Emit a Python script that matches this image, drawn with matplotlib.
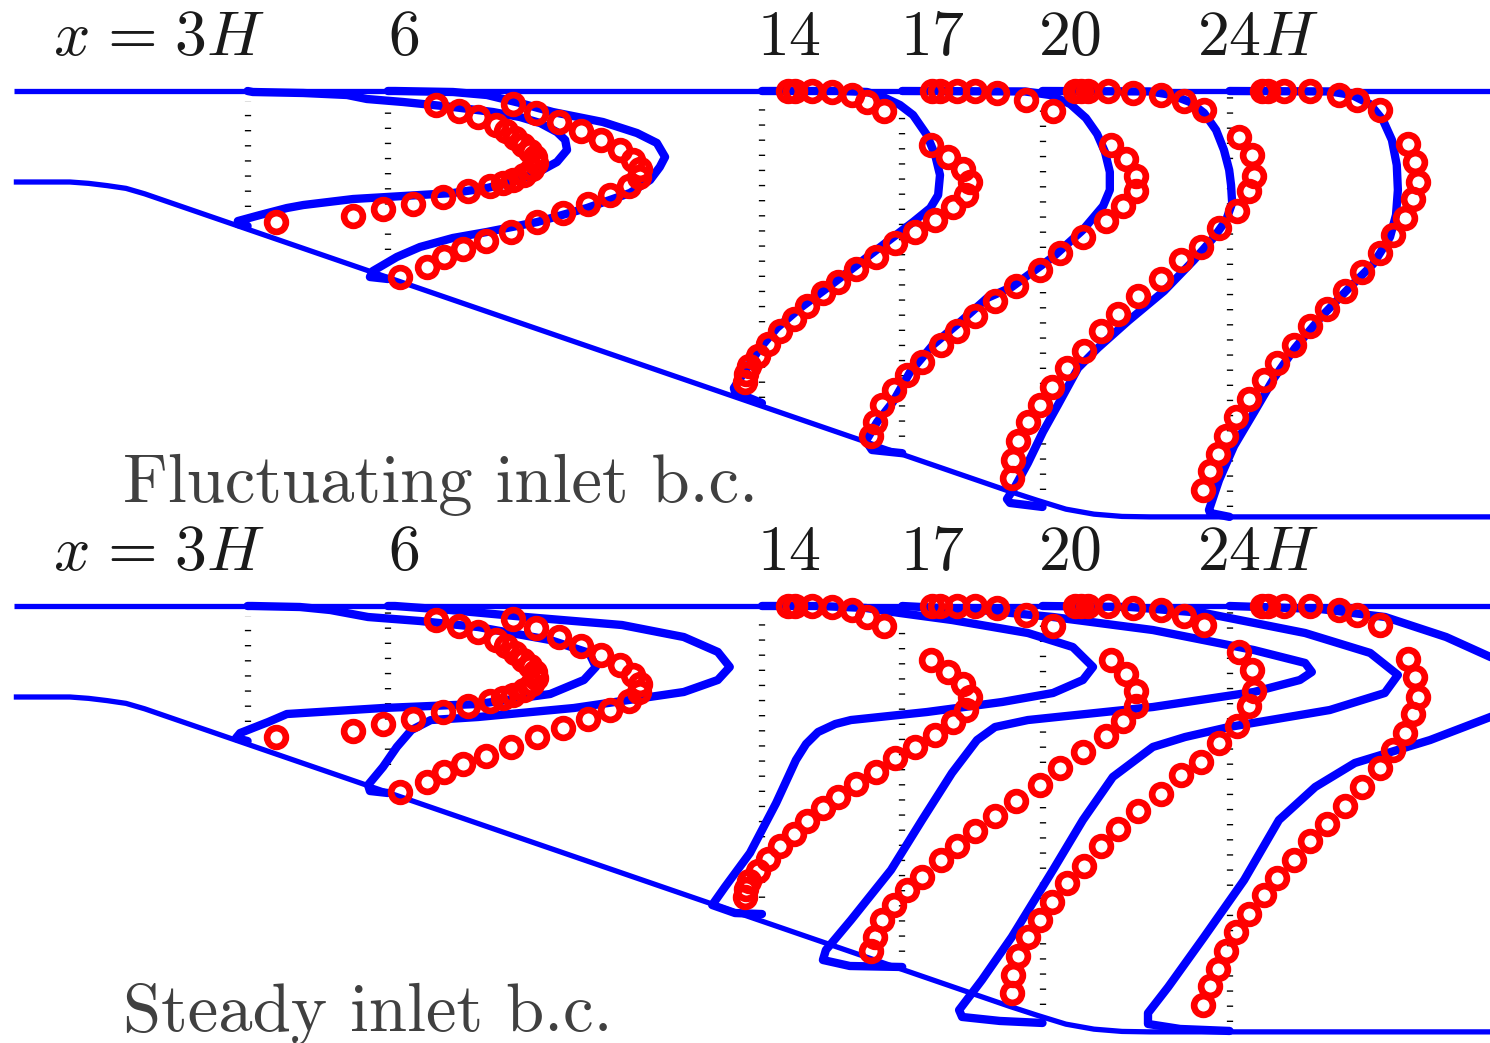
import matplotlib.pyplot as plt

plt.rcParams['mathtext.fontset'] = 'cm'

# stations along the diffuser (in H) and their labels
STATIONS = [3, 6, 14, 17, 20, 24]
STATION_LABELS = [r'$x\hspace{0.12}=\hspace{0.12}3H$', r'$6$', r'$14$', r'$17$', r'$20$', r'$24H$']
U_SCALE = 8.0  # x-offset (in H) per unit of U/Ub

# channel walls (x/H, y/H)
TOP_WALL_X = [-2.0, 29.7]
TOP_WALL_Y = [1.0, 1.0]
BOT_WALL_X = [-2.0, -0.8, -0.4, 0.0, 0.4, 0.8, 19.3, 19.9, 20.5, 21.1, 21.7, 22.3, 29.7]
BOT_WALL_Y = [0.0, 0.0, -0.015, -0.04, -0.07, -0.13, -3.40, -3.50, -3.595, -3.65, -3.675, -3.68, -3.68]

# extent of the dotted zero lines at each station
DOT_TOP = [0.89, 0.956, 0.945, 0.846, 0.923, 0.956]
DOT_BOT = [-0.275, -0.75, -2.374, -2.967, -3.385, -3.571]

# experiment (circles) - same data in both panels
EXP3_U = [0.504, 0.565, 0.616, 0.664, 0.691, 0.715, 0.736, 0.755, 0.768, 0.771, 0.760,
          0.739, 0.709, 0.683, 0.648, 0.589, 0.522, 0.442, 0.362, 0.282, 0.076]
EXP3_Y = [0.846, 0.780, 0.714, 0.626, 0.560, 0.484, 0.407, 0.341, 0.275, 0.209, 0.143,
          0.077, 0.022, -0.011, -0.044, -0.099, -0.165, -0.242, -0.297, -0.374, -0.440]
EXP6_U = [0.334, 0.396, 0.457, 0.516, 0.570, 0.620, 0.655, 0.674, 0.671, 0.644, 0.594,
          0.535, 0.468, 0.399, 0.329, 0.262, 0.201, 0.150, 0.105, 0.032]
EXP6_Y = [0.857, 0.758, 0.659, 0.560, 0.462, 0.352, 0.242, 0.143, 0.055, -0.044, -0.143,
          -0.242, -0.341, -0.440, -0.549, -0.648, -0.736, -0.824, -0.934, -1.044]
EXP14_U = [0.070, 0.088, 0.134, 0.187, 0.241, 0.281, 0.326, 0.452, 0.497, 0.538, 0.556,
           0.546, 0.511, 0.463, 0.409, 0.356, 0.305, 0.252, 0.203, 0.163, 0.121, 0.086,
           0.048, 0.016, -0.010, -0.034, -0.043, -0.045]
EXP14_Y = [1.005, 1.005, 1.000, 0.989, 0.956, 0.879, 0.780, 0.407, 0.275, 0.143, 0.000,
           -0.143, -0.275, -0.418, -0.549, -0.670, -0.824, -0.956, -1.099, -1.220, -1.363,
           -1.505, -1.637, -1.780, -1.912, -2.022, -2.110, -2.198]
EXP17_U = [0.080, 0.101, 0.146, 0.195, 0.253, 0.331, 0.403, 0.558, 0.598, 0.625, 0.625,
           0.590, 0.545, 0.483, 0.422, 0.368, 0.304, 0.248, 0.195, 0.146, 0.104, 0.053,
           0.013, -0.022, -0.054, -0.073, -0.083]
EXP17_Y = [1.005, 1.005, 1.005, 1.000, 0.978, 0.901, 0.780, 0.407, 0.253, 0.066, -0.099,
           -0.264, -0.429, -0.604, -0.780, -0.967, -1.143, -1.308, -1.473, -1.637, -1.791,
           -1.978, -2.121, -2.286, -2.451, -2.637, -2.791]
EXP20_U = [0.087, 0.103, 0.122, 0.175, 0.242, 0.317, 0.378, 0.432, 0.525, 0.560, 0.565,
           0.552, 0.520, 0.472, 0.424, 0.370, 0.317, 0.255, 0.202, 0.156, 0.111, 0.065,
           0.025, -0.007, -0.039, -0.065, -0.079, -0.082]
EXP20_Y = [1.005, 1.005, 1.005, 1.000, 0.978, 0.956, 0.890, 0.791, 0.495, 0.297, 0.066,
           -0.099, -0.319, -0.505, -0.714, -0.857, -1.066, -1.253, -1.451, -1.637, -1.857,
           -2.044, -2.253, -2.451, -2.637, -2.846, -3.055, -3.253]
EXP24_U = [0.087, 0.103, 0.146, 0.215, 0.293, 0.341, 0.402, 0.477, 0.496, 0.504, 0.490,
           0.469, 0.437, 0.402, 0.354, 0.309, 0.261, 0.215, 0.172, 0.127, 0.092, 0.052,
           0.017, -0.009, -0.031, -0.052, -0.071]
EXP24_Y = [1.005, 1.005, 1.000, 1.000, 0.956, 0.901, 0.791, 0.418, 0.220, 0.000, -0.187,
           -0.396, -0.582, -0.780, -0.989, -1.198, -1.396, -1.582, -1.791, -1.989, -2.176,
           -2.385, -2.582, -2.791, -2.989, -3.176, -3.385]

# simulation, fluctuating inlet b.c. (top panel)
FL3_U = [0.0, -0.026, -0.026, 0.033, 0.105, 0.149, 0.282, 0.416, 0.549, 0.640, 0.709, 0.773,
         0.827, 0.854, 0.849, 0.827, 0.782, 0.728, 0.656, 0.549, 0.416, 0.319, 0.266, 0.149,
         0.014, 0.0]
FL3_Y = [-0.484, -0.462, -0.429, -0.363, -0.286, -0.253, -0.187, -0.154, -0.121, -0.066, 0.0,
         0.099, 0.220, 0.352, 0.462, 0.549, 0.648, 0.714, 0.769, 0.824, 0.879, 0.912, 0.956,
         0.978, 0.989, 1.0]
FL6_U = [0.0, -0.048, -0.040, 0.024, 0.086, 0.174, 0.265, 0.399, 0.532, 0.647, 0.701, 0.727,
         0.741, 0.719, 0.666, 0.575, 0.441, 0.353, 0.265, 0.174, 0.019, 0.0]
FL6_Y = [-1.066, -1.044, -0.978, -0.824, -0.714, -0.615, -0.549, -0.440, -0.286, -0.121, 0.022,
         0.165, 0.275, 0.429, 0.538, 0.659, 0.769, 0.868, 0.956, 0.989, 1.0, 1.0]
FL14_U = [0.0, -0.072, -0.075, -0.040, -0.005, 0.040, 0.102, 0.174, 0.254, 0.334, 0.404, 0.450,
          0.471, 0.476, 0.463, 0.441, 0.404, 0.369, 0.324, 0.281, 0.209, 0.0]
FL14_Y = [-2.43, -2.308, -2.264, -2.044, -1.824, -1.604, -1.385, -1.165, -0.912, -0.659, -0.440,
          -0.286, -0.143, 0.077, 0.297, 0.516, 0.736, 0.846, 0.934, 0.989, 1.0, 1.0]
FL17_U = [0.0, -0.081, -0.097, -0.067, -0.025, 0.021, 0.082, 0.155, 0.227, 0.293, 0.403, 0.483,
          0.537, 0.555, 0.555, 0.542, 0.521, 0.491, 0.449, 0.395, 0.328, 0.0]
FL17_Y = [-2.98, -2.945, -2.846, -2.637, -2.418, -2.088, -1.791, -1.538, -1.275, -1.154, -0.824,
          -0.527, -0.264, -0.088, 0.110, 0.330, 0.527, 0.703, 0.857, 0.956, 0.995, 1.0]
FL20_U = [0.0, -0.087, -0.095, -0.074, -0.039, 0.001, 0.041, 0.095, 0.148, 0.229, 0.325, 0.405,
          0.459, 0.491, 0.507, 0.504, 0.499, 0.485, 0.464, 0.432, 0.394, 0.346, 0.287, 0.0]
FL20_Y = [-3.571, -3.527, -3.484, -3.352, -3.088, -2.747, -2.451, -2.044, -1.824, -1.527, -1.198,
          -0.857, -0.604, -0.418, -0.231, -0.033, 0.132, 0.352, 0.571, 0.758, 0.879, 0.956,
          0.995, 1.0]
FL24_U = [0.0, -0.052, -0.055, -0.028, 0.012, 0.066, 0.119, 0.175, 0.247, 0.322, 0.384, 0.429,
          0.445, 0.450, 0.447, 0.434, 0.410, 0.375, 0.327, 0.269, 0.0]
FL24_Y = [-3.68, -3.637, -3.604, -3.275, -2.901, -2.527, -2.154, -1.824, -1.473, -1.154, -0.901,
          -0.604, -0.363, -0.088, 0.187, 0.462, 0.681, 0.857, 0.956, 0.995, 1.0]

# simulation, steady inlet b.c. (bottom panel)
ST3_U = [0.0, -0.031, -0.020, 0.055, 0.105, 0.362, 0.616, 0.809, 0.899, 0.931, 0.913, 0.809,
         0.616, 0.461, 0.322, 0.221, 0.140, 0.012, 0.0]
ST3_Y = [-0.484, -0.451, -0.396, -0.275, -0.187, -0.121, -0.077, 0.033, 0.187, 0.330, 0.484,
         0.626, 0.769, 0.835, 0.879, 0.956, 0.989, 1.0, 1.0]
ST6_U = [0.0, -0.048, -0.053, -0.013, 0.024, 0.063, 0.115, 0.241, 0.497, 0.791, 0.882, 0.914,
         0.882, 0.791, 0.626, 0.369, 0.166, 0.019, 0.0]
ST6_Y = [-1.055, -1.033, -0.967, -0.769, -0.549, -0.363, -0.253, -0.220, -0.121, 0.055, 0.187,
         0.330, 0.495, 0.659, 0.791, 0.879, 0.956, 1.0, 1.0]
ST14_U = [0.0, -0.072, -0.133, -0.099, -0.032, 0.038, 0.091, 0.118, 0.150, 0.196, 0.238, 0.441,
          0.642, 0.778, 0.858, 0.885, 0.831, 0.711, 0.508, 0.369, 0.278, 0.155, 0.0]
ST14_Y = [-2.385, -2.374, -2.286, -2.088, -1.714, -1.165, -0.692, -0.516, -0.385, -0.297, -0.253,
          -0.165, -0.055, 0.044, 0.187, 0.330, 0.549, 0.703, 0.846, 0.923, 0.978, 1.0, 1.0]
ST17_U = [0.0, -0.140, -0.212, -0.204, -0.137, -0.030, 0.053, 0.133, 0.200, 0.248, 0.336, 0.670,
          0.940, 1.063, 1.095, 1.077, 0.940, 0.670, 0.403, 0.208, 0.0]
ST17_Y = [-2.967, -2.956, -2.890, -2.780, -2.451, -1.901, -1.352, -0.835, -0.473, -0.330, -0.253,
          -0.110, 0.055, 0.187, 0.275, 0.374, 0.516, 0.736, 0.879, 0.956, 1.0]
ST20_U = [0.0, -0.114, -0.215, -0.223, -0.162, -0.082, 0.028, 0.108, 0.188, 0.295, 0.381, 0.498,
          0.768, 0.915, 0.950, 0.876, 0.702, 0.432, 0.234, 0.0]
ST20_Y = [-3.582, -3.560, -3.516, -3.440, -3.110, -2.637, -1.901, -1.352, -0.879, -0.549, -0.440,
          -0.330, -0.143, 0.044, 0.242, 0.484, 0.703, 0.923, 0.989, 1.0]
ST24_U = [0.0, -0.132, -0.218, -0.218, -0.164, -0.068, 0.039, 0.132, 0.229, 0.335, 0.536, 0.697,
          0.782, 0.817, 0.777, 0.697, 0.579, 0.416, 0.242, 0.0]
ST24_Y = [-3.670, -3.648, -3.593, -3.473, -3.187, -2.637, -2.011, -1.352, -0.989, -0.725, -0.473,
          -0.220, -0.055, 0.121, 0.297, 0.440, 0.659, 0.879, 0.967, 1.0]

EXP_U = [EXP3_U, EXP6_U, EXP14_U, EXP17_U, EXP20_U, EXP24_U]
EXP_Y = [EXP3_Y, EXP6_Y, EXP14_Y, EXP17_Y, EXP20_Y, EXP24_Y]
FL_U = [FL3_U, FL6_U, FL14_U, FL17_U, FL20_U, FL24_U]
FL_Y = [FL3_Y, FL6_Y, FL14_Y, FL17_Y, FL20_Y, FL24_Y]
ST_U = [ST3_U, ST6_U, ST14_U, ST17_U, ST20_U, ST24_U]
ST_Y = [ST3_Y, ST6_Y, ST14_Y, ST17_Y, ST20_Y, ST24_Y]

BLUE = '#0000ff'
RED = '#ff0000'
LABEL_X = [-1.16, 6.0, 13.9, 16.95, 19.9, 23.3]


def draw_panel(ax, sim_u, sim_y, caption, cap_y):
    ax.plot(TOP_WALL_X, TOP_WALL_Y, color=BLUE, lw=3.8, solid_capstyle='butt')
    ax.plot(BOT_WALL_X, BOT_WALL_Y, color=BLUE, lw=3.8, solid_capstyle='butt')
    # dotted zero lines: short horizontal dashes like the original
    for s, yt, yb in zip(STATIONS, DOT_TOP, DOT_BOT):
        ax.plot([s, s], [yb, yt], color='k', lw=4.5, dashes=(0.22, 2.2),
                dash_capstyle='butt')
    for s, u, y in zip(STATIONS, sim_u, sim_y):
        ax.plot([s + U_SCALE * v for v in u], y, color=BLUE, lw=6,
                solid_joinstyle='round', solid_capstyle='round')
    for s, u, y in zip(STATIONS, EXP_U, EXP_Y):
        ax.plot([s + U_SCALE * v for v in u], y, 'o', ms=13.5, mfc='none',
                mec=RED, mew=4.8)
    for lab, xl in zip(STATION_LABELS, LABEL_X):
        ax.text(xl, 1.40, lab, fontsize=46, color='#1a1a1a', ha='left', va='baseline')
    ax.text(0.34, cap_y, caption, fontsize=49.5, family='cmr10', color='#404040',
            ha='left', va='baseline')


fig = plt.figure(figsize=(14.9, 10.43), dpi=100)

ax1 = fig.add_axes([0, 0, 1, 1])
ax1.set_xlim(-2.2947, 29.570)
ax1.set_ylim(-9.4615, 2.0)
ax1.axis('off')
draw_panel(ax1, FL_U, FL_Y, 'Fluctuating inlet b.c.', -3.513)

ax2 = fig.add_axes([0, 0, 1, 1])
ax2.set_xlim(-2.2947, 29.570)
ax2.set_ylim(-3.8022, 7.6593)
ax2.axis('off')
draw_panel(ax2, ST_U, ST_Y, 'Steady inlet b.c.', -3.670)

fig.savefig('out.png', dpi=100)
